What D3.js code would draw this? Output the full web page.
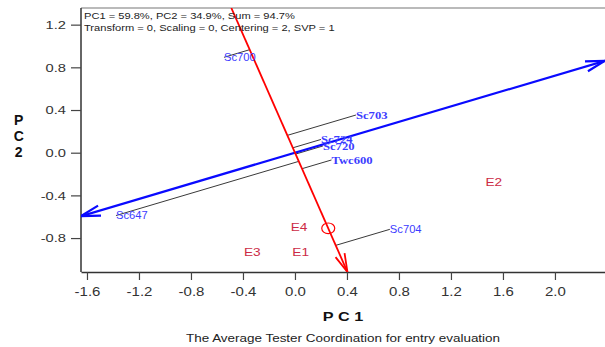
<!DOCTYPE html>
<html>
<head>
<meta charset="utf-8">
<script src="https://cdn.jsdelivr.net/npm/d3@7"></script>
<style>
  html, body { margin: 0; padding: 0; background: #fff; }
  svg { display: block; }
</style>
</head>
<body>
<div id="chart"></div>
<script>
// ---------- data ----------
const xTicks = [-1.6, -1.2, -0.8, -0.4, 0.0, 0.4, 0.8, 1.2, 1.6, 2.0];
const yTicks = [1.2, 0.8, 0.4, 0.0, -0.4, -0.8];
const xDomain = [-1.646, 2.385];
const yDomain = [-1.118, 1.356];

const genotypes = ["Sc700", "Sc703", "Sc724", "Sc720", "Twc600", "Sc704", "Sc647"];
const genoPC1   = [-0.546, 0.469, 0.200, 0.215, 0.281, 0.730, -1.377];
const genoPC2   = [0.894, 0.353, 0.124, 0.063, -0.068, -0.718, -0.589];

const environments = ["E1", "E2", "E3", "E4"];
const envPC1 = [0.044, 1.530, -0.328, 0.031];
const envPC2 = [-0.930, -0.270, -0.930, -0.694];

const avgEnv = [0.256, -0.709];
const avgEnvRadius = 0.05;

const headerLines = [
  "PC1 = 59.8%, PC2 = 34.9%, Sum = 94.7%",
  "Transform = 0, Scaling = 0, Centering = 2, SVP = 1"
];
const xTitle = "P C 1";
const yTitle = ["P", "C", "2"];
const caption = "The Average Tester Coordination for entry evaluation";

// ---------- layout ----------
const W = 605, H = 347;
const L = 81, R = 605, T = 8, B = 272;

const x = d3.scaleLinear().domain(xDomain).range([L, R]);
const y = d3.scaleLinear().domain(yDomain).range([B, T]);
const fmt = d => d.toFixed(1);

const svg = d3.select("#chart").append("svg")
  .attr("width", W).attr("height", H);

svg.append("defs").append("clipPath").attr("id", "plotclip")
  .append("rect").attr("x", L).attr("y", T).attr("width", R - L).attr("height", B - T);

function stretchText(sel, px, py, sx) {
  return sel.attr("transform", `translate(${px},${py}) scale(${sx},1)`);
}

// frame
svg.append("line").attr("x1", L).attr("x2", R).attr("y1", T).attr("y2", T)
  .attr("stroke", "#777").attr("stroke-width", 1.2);

// axes
const xAxis = d3.axisBottom(x).tickValues(xTicks).tickFormat(fmt).tickSize(8).tickSizeOuter(0);
const gx = svg.append("g").attr("transform", `translate(0,${B})`).call(xAxis);
gx.select(".domain").attr("stroke", "#333").attr("stroke-width", 1.5);
gx.selectAll(".tick line").attr("stroke", "#444").attr("stroke-width", 1.2);
gx.selectAll(".tick text").each(function(d) {
  d3.select(this).attr("x", null).attr("y", null).attr("dy", null)
    .attr("text-anchor", "middle")
    .attr("font-family", "Liberation Sans, Arial, sans-serif")
    .attr("font-size", 12.5).attr("fill", "#333");
  stretchText(d3.select(this), 0, 23.7, 1.2);
});

const yAxis = d3.axisLeft(y).tickValues(yTicks).tickFormat(fmt).tickSize(10).tickSizeOuter(0);
const gy = svg.append("g").attr("transform", `translate(${L},0)`).call(yAxis);
gy.select(".domain").attr("stroke", "#333").attr("stroke-width", 1.5)
  .attr("d", `M0,${T}V${B}`);
gy.selectAll(".tick line").attr("stroke", "#444").attr("stroke-width", 1.2);
gy.selectAll(".tick text").each(function(d) {
  d3.select(this).attr("x", null).attr("y", null).attr("dy", null)
    .attr("text-anchor", "end")
    .attr("font-family", "Liberation Sans, Arial, sans-serif")
    .attr("font-size", 10.5).attr("fill", "#333");
  stretchText(d3.select(this), -15, 3.8, 1.4);
});

// ---------- biplot ----------
const plot = svg.append("g").attr("clip-path", "url(#plotclip)");

// ATC axes derived from the average environment
const n = Math.hypot(avgEnv[0], avgEnv[1]);
const rDir = [avgEnv[0] / n, avgEnv[1] / n];      // abscissa (towards average env.)
const bDir = [-rDir[1], rDir[0]];                  // ordinate (perpendicular)

function boxRange(d) {
  let lo = -Infinity, hi = Infinity;
  [[d[0], xDomain], [d[1], yDomain]].forEach(([c, dom]) => {
    if (Math.abs(c) < 1e-12) return;
    const a = dom[0] / c, b = dom[1] / c;
    lo = Math.max(lo, Math.min(a, b));
    hi = Math.min(hi, Math.max(a, b));
  });
  return [lo, hi];
}
const P = (d, t) => [x(d[0] * t), y(d[1] * t)];

function arrowHead(tip, from, len, ang) {
  const a = Math.atan2(from[1] - tip[1], from[0] - tip[0]);
  const p1 = [tip[0] + len * Math.cos(a + ang), tip[1] + len * Math.sin(a + ang)];
  const p2 = [tip[0] + len * Math.cos(a - ang), tip[1] + len * Math.sin(a - ang)];
  return `M${p1[0]},${p1[1]}L${tip[0]},${tip[1]}L${p2[0]},${p2[1]}`;
}

// projection lines (genotype -> abscissa)
genotypes.forEach((g, i) => {
  const p = [genoPC1[i], genoPC2[i]];
  const t = p[0] * rDir[0] + p[1] * rDir[1];
  plot.append("line")
    .attr("x1", x(p[0])).attr("y1", y(p[1]))
    .attr("x2", x(rDir[0] * t)).attr("y2", y(rDir[1] * t))
    .attr("stroke", "#222").attr("stroke-width", 0.9);
});

// blue ordinate
const [bLo, bHi] = boxRange(bDir);
const b0 = P(bDir, bLo), b1 = P(bDir, bHi);
plot.append("line").attr("x1", b0[0]).attr("y1", b0[1]).attr("x2", b1[0]).attr("y2", b1[1])
  .attr("stroke", "#0a0aff").attr("stroke-width", 2.2);
plot.append("path").attr("d", arrowHead(b0, b1, 20, Math.PI / 12))
  .attr("fill", "none").attr("stroke", "#0a0aff").attr("stroke-width", 2.2);
plot.append("path").attr("d", arrowHead(b1, b0, 20, Math.PI / 12))
  .attr("fill", "none").attr("stroke", "#0a0aff").attr("stroke-width", 2.2);

// red abscissa
const [rLo, rHi] = boxRange(rDir);
const r0 = P(rDir, rLo), r1 = P(rDir, rHi);
plot.append("line").attr("x1", r0[0]).attr("y1", r0[1]).attr("x2", r1[0]).attr("y2", r1[1])
  .attr("stroke", "#ff0000").attr("stroke-width", 1.8);
plot.append("path").attr("d", arrowHead(r1, r0, 19, Math.PI / 12))
  .attr("fill", "none").attr("stroke", "#ff0000").attr("stroke-width", 1.8);

// average environment circle
plot.append("ellipse")
  .attr("cx", x(avgEnv[0])).attr("cy", y(avgEnv[1]))
  .attr("rx", x(avgEnvRadius) - x(0)).attr("ry", y(0) - y(avgEnvRadius))
  .attr("fill", "none").attr("stroke", "#ff0000").attr("stroke-width", 1.2);

// genotype labels
const serifLabels = new Set(["Sc703", "Sc724", "Sc720", "Twc600"]);
genotypes.forEach((g, i) => {
  const serif = serifLabels.has(g);
  const t = svg.append("text").text(g)
    .attr("font-family", serif ? "Liberation Serif, Times New Roman, serif" : "Liberation Sans, Arial, sans-serif")
    .attr("font-size", serif ? 11 : 10)
    .attr("font-weight", serif ? "bold" : "normal")
    .attr("fill", "#3c3cff")
    .attr("dy", "0.35em");
  stretchText(t, x(genoPC1[i]), y(genoPC2[i]), serif ? 1.15 : 1.12);
});

// environment labels
environments.forEach((e, i) => {
  const t = svg.append("text").text(e)
    .attr("font-family", "Liberation Sans, Arial, sans-serif")
    .attr("font-size", 11.6)
    .attr("fill", "#cc2a45")
    .attr("text-anchor", "middle")
    .attr("dy", "0.35em");
  stretchText(t, x(envPC1[i]), y(envPC2[i]), 1.18);
});

// header
headerLines.forEach((s, i) => {
  const t = svg.append("text").text(s)
    .attr("font-family", "Liberation Sans, Arial, sans-serif")
    .attr("font-size", 9.5).attr("fill", "#222");
  stretchText(t, 84, 18.8 + i * 12, 1.17);
});

// axis titles
const xt = svg.append("text").text(xTitle)
  .attr("font-family", "Liberation Sans, Arial, sans-serif")
  .attr("font-size", 13).attr("font-weight", "bold").attr("fill", "#111")
  .attr("text-anchor", "middle");
stretchText(xt, 343, 320.7, 1.25);

yTitle.forEach((c, i) => {
  svg.append("text").text(c)
    .attr("x", 18.7).attr("y", 125 + i * 15.9)
    .attr("font-family", "Liberation Sans, Arial, sans-serif")
    .attr("font-size", 14).attr("font-weight", "bold").attr("fill", "#111")
    .attr("text-anchor", "middle");
});

// caption
const cap = svg.append("text").text(caption)
  .attr("font-family", "Liberation Sans, Arial, sans-serif")
  .attr("font-size", 11.6).attr("fill", "#222")
  .attr("text-anchor", "middle");
stretchText(cap, 343, 341.5, 1.16);
</script>
</body>
</html>
